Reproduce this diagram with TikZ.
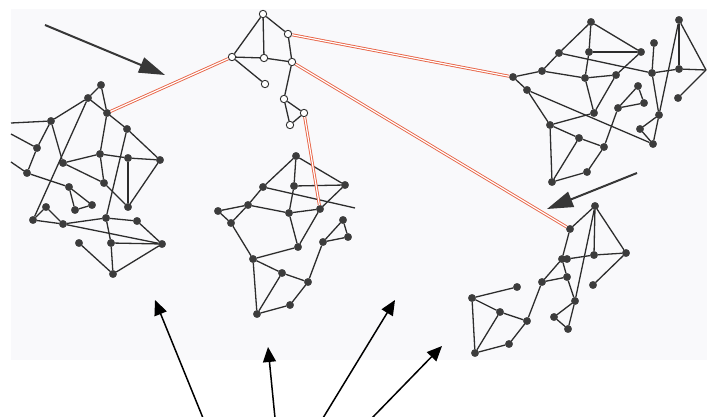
\documentclass[tikz,border=0pt]{standalone}
\usetikzlibrary{arrows.meta}
\definecolor{scan}{RGB}{249,249,251}
\definecolor{edgec}{RGB}{45,45,45}
\definecolor{nodec}{RGB}{60,60,60}
\definecolor{orng}{RGB}{232,100,70}
\definecolor{garr}{RGB}{55,55,55}
\tikzset{
  dn/.style={circle,fill=nodec,draw=nodec,inner sep=0pt,minimum size=7.4pt},
  wn/.style={circle,fill=white,draw=edgec,line width=0.9pt,inner sep=0pt,minimum size=7.4pt},
  ed/.style={draw=edgec,line width=1.3pt},
  orl/.style={draw=orng,double=white,line width=0.9pt,double distance=1.2pt},
  garrow/.style={draw=garr,line width=2pt,-{Triangle[length=26pt,width=16pt]}},
  barrow/.style={draw=black,line width=1.5pt,-{Triangle[length=15pt,width=13pt]}}
}
\begin{document}
\begin{tikzpicture}[x=1pt,y=-1pt]
\useasboundingbox (0,0) rectangle (707,417);
\fill[white] (0,0) rectangle (707,417);
\fill[scan] (11,9) rectangle (707,360);
% ---------- left cluster ----------
\foreach \n/\x/\y in {la/101/85,lb/88/98,ll/107/113,lc/51/121,ld/127/129,le/37/148,lf/100/154,lg/63/163,lh/128/158,li/160/160,lj/27/173,lm/104/183,lk/69/187,ln/46/207,lo/75/210,lp/92/205,lq/128/207,ls/33/220,lt/63/224,lu/106/218,lv/137/221,lx/79/243,ly/111/243,lw/162/244,lz/113/274}
  \node[dn] (\n) at (\x,\y) {};
\coordinate (lb1) at (11,123);
\coordinate (lb2) at (11,134);
\coordinate (lb3) at (11,162);
\foreach \a/\b in {la/lb,la/ll,lb/lc,lb/ll,lb/ls,ll/ld,ll/lf,ld/li,ld/lu,lc/le,lc/lg,le/lj,lg/lf,lf/lh,lh/li,lh/lq,li/lq,lf/lm,lg/lm,lm/lq,lj/lk,lk/lo,lk/lp,lo/lp,ls/ln,ln/lt,ls/lt,lt/lu,lu/lv,lt/lw,lu/ly,ly/lw,lv/lw,ly/lz,lw/lz,lx/lz,lb1/lc,lb2/le,lb3/lj}
  \draw[ed] (\a) -- (\b);
% ---------- middle cluster ----------
\foreach \n/\x/\y in {m1/296/156,m2/263/187,m3/294/186,m4/345/185,m5/248/205,m6/289/213,m7/320/209,m8/218/211,m9/231/223,m10/343/220,m11/348/237,m12/323/242,m13/298/247,m14/253/259,m15/282/273,m16/308/282,m17/290/305,m18/257/314}
  \node[dn] (\n) at (\x,\y) {};
\coordinate (mz) at (355,208);
\foreach \a/\b in {m1/m2,m1/m3,m1/m4,m3/m4,m2/m5,m2/mz,m3/m6,m4/m7,m5/m6,m6/m7,m5/m8,m5/m9,m8/m9,m9/m14,m6/m13,m7/m13,m13/m14,m14/m15,m14/m18,m15/m16,m15/m18,m18/m17,m17/m16,m16/m12,m12/m10,m12/m11,m10/m11}
  \draw[ed] (\a) -- (\b);
% ---------- right top cluster ----------
\foreach \n/\x/\y in {r1/591/22,r2/679/20,r3/654/43,r4/559/53,r5/589/52,r6/641/52,r7/513/77,r8/542/71,r9/585/78,r10/616/75,r11/652/73,r12/679/69,r13/527/90,r14/638/86,r15/644/103,r16/678/98,r17/618/108,r18/594/113,r19/659/115,r20/550/125,r21/640/129,r22/579/138,r23/653/144,r24/604/147,r25/587/172,r26/552/182}
  \node[dn] (\n) at (\x,\y) {};
\coordinate (rz) at (706,70);
\foreach \a/\b in {r1/r4,r1/r5,r1/r6,r5/r6,r4/r8,r4/r11,r6/r10,r5/r9,r7/r8,r7/r13,r8/r9,r9/r10,r9/r18,r10/r18,r13/r20,r13/r23,r20/r18,r20/r22,r20/r26,r22/r24,r22/r26,r24/r17,r17/r14,r17/r15,r14/r15,r26/r25,r25/r24,r3/r11,r11/r12,r11/r19,r2/r12,r2/r19,r19/r23,r19/r21,r21/r23,r12/rz,r2/rz,rz/r16}
  \draw[ed] (\a) -- (\b);
% ---------- right bottom cluster ----------
\foreach \n/\x/\y in {b1/595/206,b2/570/229,b3/562/259,b3x/567/259,b4/594/255,b5/626/253,b6/567/277,b7/542/282,b8/593/285,b9/517/287,b10/472/298,b11/575/301,b12/500/312,b13/527/321,b14/554/317,b15/568/329,b16/509/344,b17/475/353}
  \node[dn] (\n) at (\x,\y) {};
\foreach \a/\b in {b1/b2,b1/b4,b1/b5,b4/b5,b1/b11,b11/b15,b11/b14,b14/b15,b2/b3,b3x/b4,b3/b6,b3/b7,b6/b7,b6/b11,b7/b13,b13/b12,b13/b16,b12/b10,b12/b17,b10/b9,b10/b17,b17/b16,b5/b8}
  \draw[ed] (\a) -- (\b);
% ---------- top (white) cluster ----------
\foreach \n/\x/\y in {t1/263/14,t2/288/34,t3/232/57,t4/264/58,t5/292/62,t6/265/84,t7/284/99,t8/304/113,t9/290/125}
  \node[wn] (\n) at (\x,\y) {};
\foreach \a/\b in {t1/t3,t1/t4,t1/t2,t3/t4,t4/t5,t2/t5,t3/t6,t5/t7,t7/t8,t7/t9,t8/t9}
  \draw[ed] (\a) -- (\b);
% ---------- orange links ----------
\draw[orl] (t3) -- (ll);
\draw[orl] (t2) -- (r7);
\draw[orl] (t5) -- (b2);
\draw[orl] (t8) -- (m7);
% ---------- arrows ----------
\coordinate (g1s) at (45,25);
\coordinate (g1e) at (165,75);
\coordinate (g2s) at (637,173);
\coordinate (g2e) at (547,209);
\draw[garrow] (g1s) -- (g1e);
\draw[garrow] (g2s) -- (g2e);
\coordinate (a1s) at (203,418);
\coordinate (a1e) at (155,300);
\coordinate (a2s) at (275,418);
\coordinate (a2e) at (268,347);
\coordinate (a3s) at (323,418);
\coordinate (a3e) at (395,300);
\coordinate (a4s) at (372,418);
\coordinate (a4e) at (442,346);
\draw[barrow] (a1s) -- (a1e);
\draw[barrow] (a2s) -- (a2e);
\draw[barrow] (a3s) -- (a3e);
\draw[barrow] (a4s) -- (a4e);
\end{tikzpicture}
\end{document}
